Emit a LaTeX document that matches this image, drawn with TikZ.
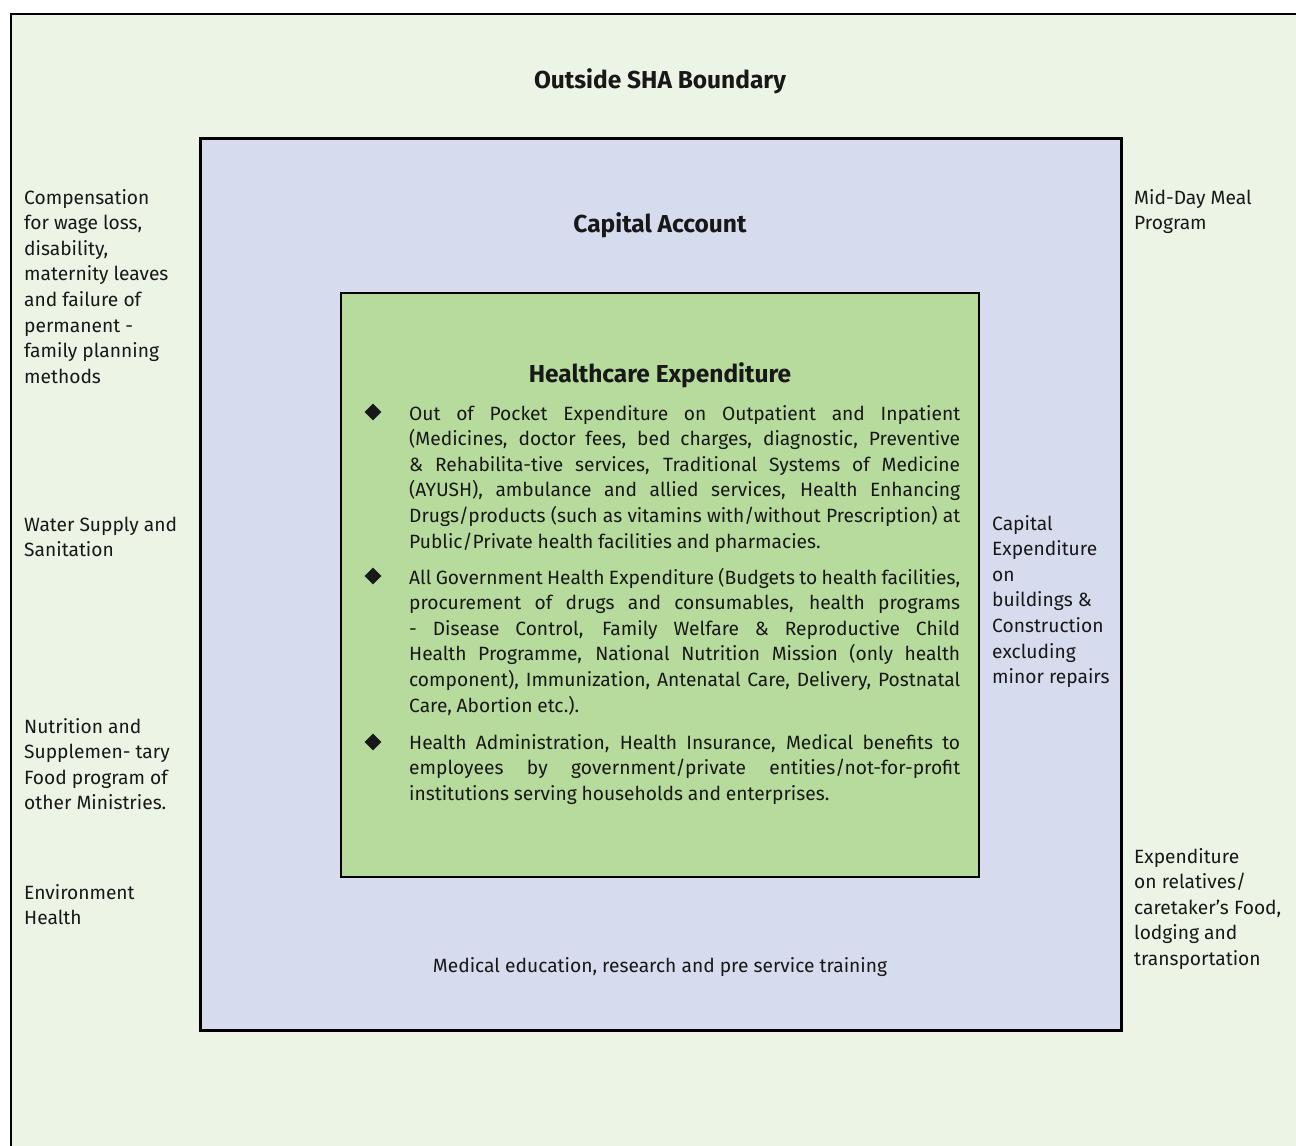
\documentclass[tikz,border=0pt]{standalone}
\usepackage{fontspec}
\setmainfont{Fira Sans}
\usepackage{xcolor}
\usepackage{tikz}
\usetikzlibrary{shapes.geometric}

\definecolor{outerbg}{RGB}{236,244,230}
\definecolor{capbg}{RGB}{214,219,238}
\definecolor{hcbg}{RGB}{183,219,156}
\definecolor{ink}{RGB}{24,24,24}

\newcommand{\bodysize}{\fontsize{19.2}{25.6}\selectfont}
% tight justified paragraphs, no hyphenation
\newcommand{\parasize}{\bodysize\hyphenpenalty=10000\exhyphenpenalty=10000\spaceskip=.25em plus .8em minus .1em}

\tikzset{
  sidetext/.style={anchor=north west, align=left, inner sep=0pt, text=ink, font=\bodysize},
  para/.style={anchor=north west, text width=551pt, align=justify, inner sep=0pt, text=ink, font=\parasize},
  heading/.style={anchor=base, inner sep=0pt, text=ink, font=\fontsize{24.5}{29}\selectfont\bfseries},
  bullet/.style={diamond, fill=ink, inner sep=0pt, minimum size=17pt},
}

\begin{document}
\begin{tikzpicture}[x=1pt,y=-1pt]
\useasboundingbox (0,0) rectangle (1296,1146);
\fill[white] (0,0) rectangle (1296,1146);
\draw[fill=outerbg, line width=2.4pt] (11,14) rectangle (1330,1180);
\draw[fill=capbg, line width=3pt] (200,138) rectangle (1121,1030);
\draw[fill=hcbg, line width=1.6pt] (341,293) rectangle (979,877);

\node[heading] (outside) at (660,88) {Outside SHA Boundary};
\node[heading] (capital) at (660,232) {Capital Account};
\node[heading] (health) at (660,382) {Healthcare Expenditure};

% items of healthcare expenditure
\node[bullet] (b1) at (373,412) {};
\node[bullet] (b2) at (373,576) {};
\node[bullet] (b3) at (373,742) {};
\node[para] (oop) at (409,402) {\noindent\strut Out of Pocket Expenditure on Outpatient and Inpatient\linebreak
(Medicines, doctor fees, bed charges, diagnostic, Preventive\linebreak
\& Rehabilita-tive services, Traditional Systems of Medicine\linebreak
(AYUSH), ambulance and allied services, Health Enhancing\linebreak
Drugs/products (such as vitamins with/without Prescription) at\linebreak
Public/Private health facilities and pharmacies.};
\node[para] (govt) at (409,566) {\noindent\strut All Government Health Expenditure (Budgets to health facilities,\linebreak
procurement of drugs and consumables, health programs\linebreak
- Disease Control, Family Welfare \& Reproductive Child\linebreak
Health Programme, National Nutrition Mission (only health\linebreak
component), Immunization, Antenatal Care, Delivery, Postnatal\linebreak
Care, Abortion etc.).};
\node[para] (admin) at (409,731) {\noindent\strut Health Administration, Health Insurance, Medical benefits to\linebreak
employees by government/private entities/not-for-profit\linebreak
institutions serving households and enterprises.};

% inside capital account
\node[sidetext] (capex) at (992,512) {\strut Capital\\Expenditure\\on\\buildings \&\\Construction\\excluding\\minor repairs};
\node[anchor=base, inner sep=0pt, text=ink, font=\bodysize] (meded) at (660,972) {Medical education, research and pre service training};

% outside SHA boundary
\node[sidetext] (comp) at (24,186) {\strut Compensation\\for wage loss,\\disability,\\maternity leaves\\and failure of\\permanent -\\family planning\\methods};
\node[sidetext] (water) at (24,513) {\strut Water Supply and\\Sanitation};
\node[sidetext] (nutri) at (24,715) {\strut Nutrition and\\Supplemen- tary\\Food program of\\other Ministries.};
\node[sidetext] (env) at (24,881) {\strut Environment\\Health};
\node[sidetext] (meal) at (1134,186) {\strut Mid-Day Meal\\Program};
\node[sidetext] (relatives) at (1134,845) {\strut Expenditure\\on relatives/\\caretaker’s Food,\\lodging and\\transportation};
\end{tikzpicture}
\end{document}
